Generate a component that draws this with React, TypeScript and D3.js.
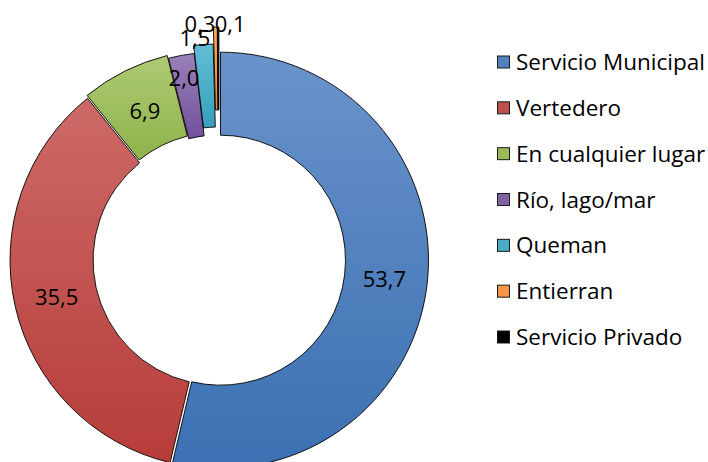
import React, { useEffect, useRef } from 'react';
import * as d3 from 'd3';

// share of households by waste disposal method (%)
const categories = [
  'Servicio Municipal',
  'Vertedero',
  'En cualquier lugar',
  'Río, lago/mar',
  'Queman',
  'Entierran',
  'Servicio Privado',
];
const values = [53.7, 35.5, 6.9, 2.0, 1.5, 0.3, 0.1];
const valueLabels = ['53,7', '35,5', '6,9', '2,0', '1,5', '0,3', '0,1'];

const baseColors = ['#4F81BD', '#C0504D', '#9BBB59', '#8064A2', '#4BACC6', '#F79646', '#000000'];
const lightColors = ['#6A93CB', '#CC6A67', '#ADCB74', '#9A80B9', '#62BDD5', '#FAA664', '#222222'];
const darkColors = ['#3B70B2', '#B73C39', '#8FB24B', '#71519C', '#37A0BC', '#EE8A35', '#000000'];

// explosion distance per slice (px)
const explode = [1.5, 1, 3, 0, 8, 25, 25];
// label placement: [angle in degrees, radius], null = ring centroid
const labelPos: ([number, number] | null)[] = [null, null, null, [349.1, 185], [353.8, 223], [355.4, 237], [2.7, 236]];

export default function App() {
  const svgRef = useRef<SVGSVGElement>(null);
  const width = 708;
  const height = 462;

  useEffect(() => {
    if (!svgRef.current) return;
    const svg = d3.select(svgRef.current);
    svg.selectAll('*').remove();

    const cx = 219;
    const cy = 260;
    const outerR = 208;
    const innerR = 125;
    const font = "'Open Sans', 'Noto Sans', sans-serif";

    const defs = svg.append('defs');
    baseColors.forEach((c, i) => {
      const g = defs.append('linearGradient')
        .attr('id', `grad${i}`)
        .attr('x1', 0).attr('y1', 0)
        .attr('x2', 0).attr('y2', 1);
      g.append('stop').attr('offset', '0%').attr('stop-color', lightColors[i]);
      g.append('stop').attr('offset', '100%').attr('stop-color', darkColors[i]);
    });

    const pie = d3.pie<number>().sort(null).startAngle(0).endAngle(2 * Math.PI);
    const arcs = pie(values);
    const arc = d3.arc<d3.PieArcDatum<number>>().innerRadius(innerR).outerRadius(outerR);

    const chart = svg.append('g').attr('transform', `translate(${cx},${cy})`);

    chart.selectAll('path.slice')
      .data(arcs)
      .enter()
      .append('path')
      .attr('class', 'slice')
      .attr('transform', (d, i) => {
        const mid = (d.startAngle + d.endAngle) / 2;
        return `translate(${Math.sin(mid) * explode[i]},${-Math.cos(mid) * explode[i]})`;
      })
      .attr('d', arc)
      .attr('fill', (d, i) => `url(#grad${i})`)
      .attr('stroke', '#000')
      .attr('stroke-width', 0.9)
      .attr('stroke-linejoin', 'round');

    // value labels
    chart.selectAll('text.val')
      .data(arcs)
      .enter()
      .append('text')
      .attr('class', 'val')
      .attr('transform', (d, i) => {
        const p = labelPos[i];
        if (!p) {
          const [x, y] = arc.centroid(d);
          return `translate(${x},${y})`;
        }
        const a = (p[0] * Math.PI) / 180;
        return `translate(${Math.sin(a) * p[1]},${-Math.cos(a) * p[1]})`;
      })
      .attr('text-anchor', 'middle')
      .attr('dy', '0.36em')
      .attr('font-family', font)
      .attr('font-size', 22)
      .attr('fill', '#000')
      .text((d, i) => valueLabels[i]);

    // legend
    const legendY = d3.scalePoint<string>()
      .domain(categories)
      .range([62, 337]);

    const legend = svg.append('g');
    const item = legend.selectAll('g')
      .data(categories)
      .enter()
      .append('g')
      .attr('transform', d => `translate(497,${legendY(d)})`);

    item.append('rect')
      .attr('x', 0.5)
      .attr('y', -6)
      .attr('width', 12)
      .attr('height', 12)
      .attr('fill', (d, i) => baseColors[i])
      .attr('stroke', '#1a1a1a')
      .attr('stroke-width', 1);

    item.append('text')
      .attr('x', 19)
      .attr('dy', '0.36em')
      .attr('font-family', font)
      .attr('font-size', 22.5)
      .attr('fill', '#000')
      .text(d => d);
  }, []);

  return (
    <svg
      ref={svgRef}
      width={width}
      height={height}
      style={{ position: 'absolute', left: 0, top: 0, background: '#fff' }}
    />
  );
}
